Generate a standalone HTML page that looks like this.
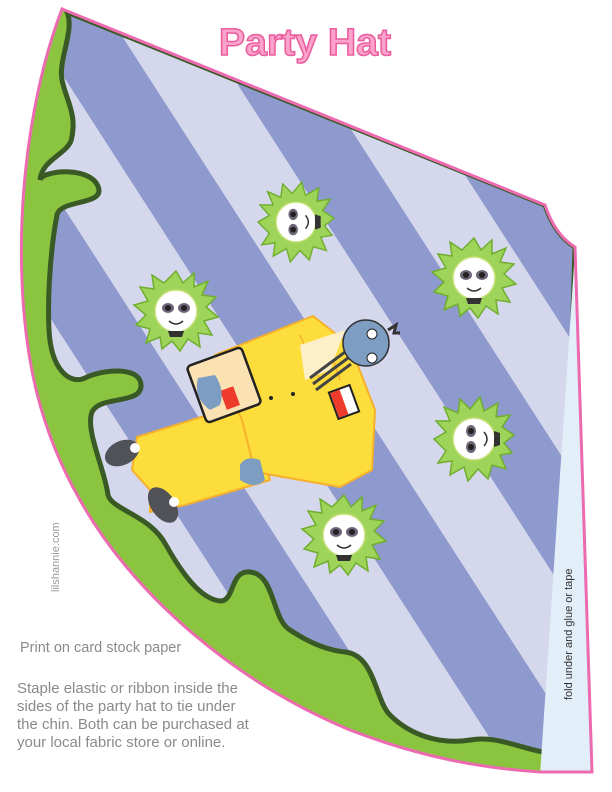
<!DOCTYPE html>
<html><head><meta charset="utf-8"><style>
html,body{margin:0;padding:0;background:#fff}
svg{display:block}
</style></head><body>
<svg width="612" height="792" viewBox="0 0 612 792" xmlns="http://www.w3.org/2000/svg">
<defs>
<pattern id="st" patternUnits="userSpaceOnUse" width="142" height="10" patternTransform="rotate(-32.8)">
<rect x="0" y="0" width="142" height="10" fill="#d5d7ec"/>
<rect x="12" y="0" width="71" height="10" fill="#8e9acd"/>
</pattern>
<clipPath id="cone"><path d="M62,9 L545,205 Q555,235 575,247 L592,772 L540,772 C480,768 420,757 350,730 C230,680 130,590 80,500 C40,430 25,360 22,280 C18,180 35,80 62,9 Z"/></clipPath>
<g id="face">
<polygon points="0,-40 7,-28 18,-38 18,-24 32,-30 26,-16 40,-14 30,-4 42,6 28,10 36,24 22,22 24,36 12,28 4,40 -4,30 -14,38 -16,26 -30,32 -26,18 -40,14 -30,4 -42,-6 -28,-10 -36,-24 -22,-22 -24,-36 -12,-28" fill="#9fd45a" stroke="#6fae2e" stroke-width="1.5"/>
<circle r="21" fill="#fff" stroke="#c8e07a" stroke-width="1.5"/>
<ellipse cx="-8" cy="-3" rx="6" ry="5" fill="#6d6478"/>
<ellipse cx="8" cy="-3" rx="6" ry="5" fill="#6d6478"/>
<circle cx="-8" cy="-3" r="3" fill="#222"/>
<circle cx="8" cy="-3" r="3" fill="#222"/>
<path d="M-7,10 Q0,16 7,10" stroke="#333" stroke-width="1.5" fill="#fff"/>
<path d="M-8,20 L8,20 L6,26 L-6,26 Z" fill="#333"/>
</g>
</defs>

<g clip-path="url(#cone)">
<rect x="0" y="0" width="612" height="792" fill="#8bc53f"/>
<path d="M67,12 C75,30 58,60 62,80 C66,100 78,115 71,141 C65,155 42,160 40,180 C42,170 95,165 99,190 C100,205 60,200 57,215 C52,240 47,290 49,330 C51,370 70,385 85,378 C100,370 140,365 141,385 C142,405 100,395 92,412 C85,430 105,470 108,495 C112,510 150,515 166,545 C180,570 200,600 221,601 C235,600 230,570 250,572 C275,574 272,620 290,630 C305,640 325,650 345,652 C375,655 375,700 390,715 C410,735 440,745 470,740 C500,735 520,750 560,755 L575,247 Q555,235 545,205 Z" fill="url(#st)" stroke="#3a5a25" stroke-width="5"/>
<polygon points="575,250 540,775 600,775 600,250" fill="#e2eef8"/>
</g>
<path d="M62,9 L545,205 Q555,235 575,247 L592,772 L540,772 C480,768 420,757 350,730 C230,680 130,590 80,500 C40,430 25,360 22,280 C18,180 35,80 62,9 Z" fill="none" stroke="#ec6bb0" stroke-width="3"/>

<use href="#face" transform="translate(296,222) rotate(-90) scale(0.95)"/>
<use href="#face" transform="translate(474,278)"/>
<use href="#face" transform="translate(176,311)"/>
<use href="#face" transform="translate(474,439) rotate(-90)"/>
<use href="#face" transform="translate(344,535)"/>

<!-- man -->
<g stroke="#f6b02c" stroke-width="2" stroke-linejoin="round">
<polygon points="240,405 137,437 132,470 150,490 150,512 185,505 270,480 255,430" fill="#fddd3c"/>
<polygon points="215,355 313,316 350,345 375,410 372,470 340,487 255,472 242,420 225,382" fill="#fddd3c"/>
</g>
<path d="M300,335 L320,380 M330,350 L340,380" stroke="#f6b02c" stroke-width="1.5"/>
<polygon points="300,345 345,330 330,370 305,380" fill="#fdf0c8"/>
<path d="M310,378 L345,352 M313,384 L348,358 M316,390 L351,364" stroke="#444" stroke-width="3"/>
<ellipse cx="122" cy="453" rx="18" ry="12" fill="#505257" transform="rotate(-25 122 453)"/>
<ellipse cx="163" cy="505" rx="20" ry="12" fill="#505257" transform="rotate(55 163 505)"/>
<circle cx="135" cy="448" r="5" fill="#fff"/>
<circle cx="174" cy="502" r="5" fill="#fff"/>
<circle cx="366" cy="343" r="23" fill="#7d9ec2" stroke="#333" stroke-width="1.5"/>
<circle cx="372" cy="334" r="5" fill="#fff" stroke="#222"/>
<circle cx="372" cy="358" r="5" fill="#fff" stroke="#222"/>
<path d="M388,330 l8,-5 l-2,8 l6,0" stroke="#333" stroke-width="3" fill="none"/>
<rect x="195" y="355" width="58" height="60" rx="4" fill="#fbe2b2" stroke="#222" stroke-width="2.5" transform="rotate(-20 224 385)"/>
<rect x="223" y="388" width="14" height="20" fill="#ef3b2c" transform="rotate(-20 230 398)"/>
<rect x="333" y="388" width="22" height="28" fill="#fff" stroke="#222" stroke-width="2" transform="rotate(-20 344 402)"/>
<rect x="334" y="389" width="10" height="26" fill="#ef3b2c" transform="rotate(-20 344 402)"/>
<path d="M198,378 q-5,20 12,32 l10,-5 q5,-15 -5,-30 z" fill="#7d9ec2"/>
<path d="M240,465 q5,-10 20,-5 l5,20 q-10,10 -25,0 z" fill="#7d9ec2"/>
<circle cx="271" cy="398" r="2" fill="#222"/>
<circle cx="293" cy="394" r="2" fill="#222"/>

<text x="219" y="55" textLength="172" lengthAdjust="spacingAndGlyphs" font-family="Liberation Sans, sans-serif" font-weight="bold" font-size="38" fill="#fba3cb" stroke="#ea5c9e" stroke-width="1.5">Party Hat</text>

<text transform="translate(59,592) rotate(-90)" font-family="Liberation Sans, sans-serif" font-size="11" fill="#9a9a9a">lilshannie.com</text>
<text transform="translate(572,700) rotate(-90)" font-family="Liberation Sans, sans-serif" font-size="11" fill="#333">fold under and glue or tape</text>

<g font-family="Liberation Sans, sans-serif" fill="#8a8a8a">
<text x="20" y="652" font-size="14.5">Print on card stock paper</text>
<g font-size="15">
<text x="17" y="693">Staple elastic or ribbon inside the</text>
<text x="17" y="711">sides of the party hat to tie under</text>
<text x="17" y="729">the chin.  Both can be purchased at</text>
<text x="17" y="747">your local fabric store or online.</text>
</g>
</g>
</svg>
</body></html>
